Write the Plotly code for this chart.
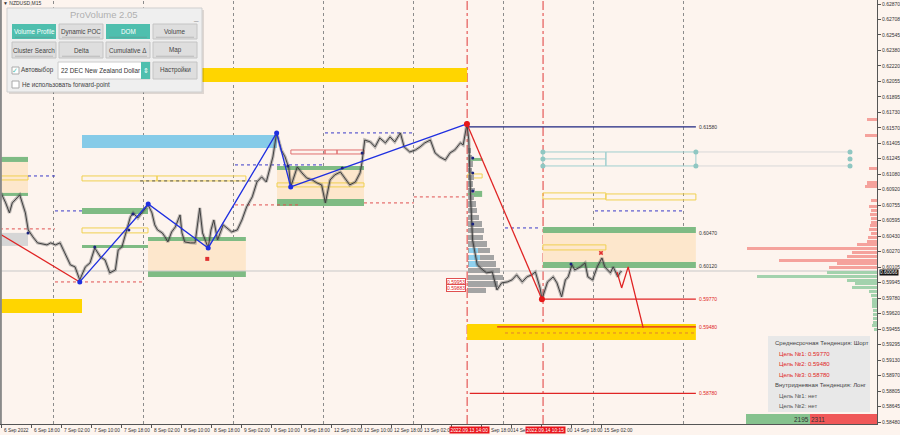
import plotly.graph_objects as go

# ---------------- data ----------------
# x axis: trading hours since 6 Sep 2022 10:00 (M15 bars, weekend skipped)
tick_hours = [0, 8, 16, 24, 32, 40, 48, 56, 64, 72, 80, 88, 96, 104, 112, 120, 128, 136, 144, 152, 160]
tick_labels = ["6 Sep 2022", "6 Sep 18:00", "7 Sep 02:00", "7 Sep 10:00", "7 Sep 18:00",
               "8 Sep 02:00", "8 Sep 10:00", "8 Sep 18:00", "9 Sep 02:00", "9 Sep 10:00",
               "9 Sep 18:00", "12 Sep 02:00", "12 Sep 10:00", "12 Sep 18:00", "13 Sep 02:00",
               "13 Sep 10:00", "13 Sep 18:00", "14 Sep 02:00", "14 Sep 10:00", "14 Sep 18:00",
               "15 Sep 02:00"]
day_separators = [14, 38, 62, 86, 110, 134, 158, 182]
event_hours = [124.0, 144.25]
event_labels = ["2022.09.13 14:00", "2022.09.14 10:15"]

price_ticks = [0.62870, 0.62708, 0.62545, 0.62380, 0.62220, 0.62055, 0.61895, 0.61730,
               0.61570, 0.61405, 0.61245, 0.61080, 0.60920, 0.60755, 0.60595, 0.60430,
               0.60270, 0.60105, 0.59945, 0.59780, 0.59620, 0.59455, 0.59295, 0.59130,
               0.58970, 0.58805, 0.58645, 0.58480]
current_price = 0.60066

price_hours = [0, 0.5, 1.25, 2.25, 3, 3.75, 4.5, 5, 6.5, 7.25,
               8.5, 9.75, 12.25, 13.25, 14.5, 15.75, 17, 18.5, 19.75, 20.5,
               21, 22.5, 23.75, 25, 26.5, 27.75, 29, 30.5, 31.25, 32.25,
               33.5, 34.5, 35.25, 36.5, 37.75, 39.25, 40.25, 41, 41.75, 43,
               43.75, 44.5, 45.5, 46.5, 47.75, 48.25, 49, 50.5, 51.75, 53,
               53.75, 55.25, 56, 56.75, 57.75, 58.5, 59.25, 60.25, 61.5, 63,
               64.25, 65.5, 67, 68.25, 69.5, 70.75, 71.75, 72.5, 73.5, 74.75,
               75.75, 76.75, 77.25, 79, 80.25, 81.5, 83, 84.25, 85.5, 86.5,
               87.75, 89, 90.5, 91.75, 93, 94.5, 95.75, 96.25, 97, 98.5,
               99.75, 101, 102.5, 103.75, 105, 106.5, 107.5, 109, 110.5, 111.75,
               113, 114.5, 115.75, 117, 118.5, 119.75, 121, 122.5, 123.25, 124.25,
               124.75, 125.25, 125.75, 126.25, 127, 128.5, 129.5, 131, 132.25, 133.5,
               135, 136.25, 137.5, 139, 140.25, 141.5, 142.5, 143.75, 144.25, 145.75,
               147.25, 148.25, 149.5, 150.5, 151.25, 152.25, 153, 154.5, 155.75, 156.5,
               157.75, 159, 160.25, 161, 162.5, 163.25, 164.5, 165, 165.5]
price_close = [0.60886, 0.60844, 0.60781, 0.60676, 0.60781, 0.60812, 0.60844, 0.60865, 0.60676, 0.60497,
               0.60424, 0.60361, 0.60340, 0.60361, 0.60340, 0.60361, 0.60256, 0.60130, 0.60109, 0.60025,
               0.59972, 0.60109, 0.60151, 0.60308, 0.60214, 0.60182, 0.60046, 0.60077, 0.60287, 0.60319,
               0.60497, 0.60634, 0.60676, 0.60623, 0.60686, 0.60760, 0.60676, 0.60550, 0.60497, 0.60466,
               0.60424, 0.60371, 0.60476, 0.60529, 0.60655, 0.60466, 0.60371, 0.60361, 0.60361, 0.60728,
               0.60466, 0.60308, 0.60497, 0.60602, 0.60392, 0.60466, 0.60550, 0.60518, 0.60476, 0.60497,
               0.60602, 0.60739, 0.60844, 0.61001, 0.61054, 0.61001, 0.61159, 0.61264, 0.61516, 0.61337,
               0.61264, 0.61148, 0.60949, 0.61159, 0.61096, 0.61043, 0.61022, 0.60991, 0.60970, 0.60781,
               0.61022, 0.61075, 0.61106, 0.61043, 0.60970, 0.61001, 0.61096, 0.61201, 0.61442, 0.61421,
               0.61369, 0.61463, 0.61411, 0.61474, 0.61421, 0.61516, 0.61369, 0.61316, 0.61337, 0.61369,
               0.61411, 0.61442, 0.61306, 0.61264, 0.61232, 0.61306, 0.61337, 0.61411, 0.61390, 0.61610,
               0.61442, 0.60812, 0.60392, 0.60287, 0.60130, 0.60077, 0.60046, 0.60056, 0.59867, 0.59941,
               0.59951, 0.59972, 0.60025, 0.59951, 0.60004, 0.60025, 0.60056, 0.59888, 0.59770, 0.59951,
               0.60004, 0.59941, 0.59794, 0.59972, 0.60004, 0.60130, 0.60077, 0.60109, 0.60151, 0.60004,
               0.59972, 0.60109, 0.60203, 0.60109, 0.60046, 0.60109, 0.60004, 0.60046, 0.60066]

zz_blue_hours = [21, 39.25, 55.25, 73.5, 77.25, 124.25]
zz_blue_price = [0.59951, 0.60770, 0.60308, 0.61516, 0.60949, 0.61610]
zz_red_hours = [[-0.27, 21], [124.25, 144.25], [164.25, 165.5, 167.25, 171.25]]
zz_red_price = [[0.60455, 0.59951], [0.61610, 0.59770], [0.60056, 0.59888, 0.60109, 0.59468]]

marker_hours = [7.2, 25.0, 34.1, 35.2, 76.5, 91.0, 96.3, 125.8, 125.8, 125.8, 125.8, 152.0]
marker_price = [0.60466, 0.60319, 0.60497, 0.60665, 0.61169, 0.61148, 0.61306, 0.61253, 0.61096, 0.60907, 0.60560, 0.60140]

# levels
level_prices = [0.61580, 0.60470, 0.60120, 0.59770, 0.59480, 0.58780]
level_labels = ["0.61580", "0.60470", "0.60120", "0.59770", "0.59480", "0.58780"]

# volume profile of the 13 Sep swing (grey histogram)
vp_mid_price = [0.6133, 0.6126, 0.6119, 0.6112, 0.6105, 0.6098, 0.6091, 0.6084, 0.6077, 0.6070, 0.6063,
                0.6056, 0.6049, 0.6042, 0.6035, 0.6028, 0.6021, 0.6014, 0.6007, 0.6000, 0.5993, 0.5986]
vp_mid_vol = [3, 4, 5, 4, 6, 5, 7, 6, 8, 9, 11, 14, 16, 15, 19, 22, 26, 28, 32, 35, 30, 18]
vp_mid_va_price = [0.6028, 0.6021, 0.6014]
vp_mid_va_vol = [9, 11, 9]

# DOM profile at right edge
dom_ask_price = [0.6166, 0.6149, 0.6114, 0.6099, 0.6095, 0.6081, 0.6074, 0.6070, 0.6066, 0.6062, 0.6058, 0.6054,
                 0.6050, 0.6046, 0.6042, 0.6038, 0.6034, 0.6030, 0.6026, 0.6022, 0.6018, 0.6014, 0.6010]
dom_ask_vol = [10, 12, 8, 10, 12, 6, 8, 6, 7, 6, 6, 7, 8, 6, 9, 10, 20, 130, 25, 30, 98, 40, 48]
dom_bid_price = [0.6005, 0.6001, 0.5997, 0.5993, 0.5989, 0.5985, 0.5981, 0.5977, 0.5973, 0.5969,
                 0.5965, 0.5961, 0.5957, 0.5953, 0.5949, 0.5945]
dom_bid_vol = [50, 120, 30, 22, 25, 8, 6, 5, 5, 5, 4, 4, 4, 4, 5, 3]
dom_totals = ["2195", "2311"]

info_lines = ["Среднесрочная Тенденция: Шорт", "Цель №1: 0.59770", "Цель №2: 0.59480",
              "Цель №3: 0.58780", "Внутридневная Тенденция: Лонг", "Цель №1: нет", "Цель №2: нет"]
panel_buttons = ["Volume Profile", "Dynamic POC", "DOM", "Volume",
                 "Cluster Search", "Delta", "Cumulative Δ", "Map"]

# zones: (h0, h1, p_low, p_high)
green_zones = [(-0.3, 7.2, 0.61211, 0.61264), (-0.3, 7.2, 0.60854, 0.60886), (21.6, 39.2, 0.60665, 0.60728),
               (21.6, 39.2, 0.60308, 0.60340), (39.2, 65.3, 0.60382, 0.60424), (39.2, 65.3, 0.60004, 0.60067),
               (73.6, 96.8, 0.61127, 0.61169), (73.6, 96.8, 0.60749, 0.60823), (124.5, 128.3, 0.61222, 0.61253),
               (124.5, 128.3, 0.60844, 0.60907), (144.5, 185.3, 0.60466, 0.60529), (144.5, 185.3, 0.60098, 0.60161)]
peach_zones = [(-0.3, 7.2, 0.60886, 0.61211), (39.2, 65.3, 0.60067, 0.60382),
               (73.6, 96.8, 0.60823, 0.61127), (144.5, 185.3, 0.60161, 0.60466)]
gold_zones = [(39.2, 124.3, 0.62051, 0.62198), (-0.3, 21.6, 0.59626, 0.59773), (124.3, 185.3, 0.59342, 0.59510)]
blue_zones = [(21.6, 73.6, 0.61358, 0.61494)]
grey_zones = [(-0.3, 7.2, 0.60329, 0.60466)]
yellow_boxes = [(-0.3, 7.2, 0.61022, 0.61064), (21.6, 41.6, 0.61012, 0.61064), (41.6, 65.3, 0.61012, 0.61064),
                (21.6, 39.2, 0.60466, 0.60518), (73.6, 96.8, 0.60949, 0.60991), (124.5, 128.3, 0.61043, 0.61085),
                (144.5, 161.3, 0.60823, 0.60886), (161.3, 185.3, 0.60812, 0.60875), (144.5, 161.3, 0.60287, 0.60340)]
red_boxes = [(77.3, 86.4, 0.61295, 0.61337), (86.4, 89.6, 0.61295, 0.61337), (89.6, 96.8, 0.61295, 0.61337)]
cyan_boxes = [(144.5, 161.3, 0.61169, 0.61316), (161.3, 185.3, 0.61169, 0.61316)]
dash_lines = [(7.2, 14.4, 0.61064, "#3a3ac8"), (-0.3, 14.4, 0.60508, "#e05050"), (14.4, 38.4, 0.59951, "#e05050"),
              (14.4, 21.6, 0.60697, "#3a3ac8"), (62.4, 79.7, 0.60760, "#e05050"), (62.4, 86.4, 0.61180, "#3a3ac8"),
              (86.4, 110.1, 0.61516, "#3a3ac8"), (96.8, 110.1, 0.60781, "#e05050"), (110.1, 124.3, 0.60844, "#e05050"),
              (158.4, 182.4, 0.60697, "#3a3ac8"), (134.4, 143.7, 0.60518, "#3a3ac8"), (37.1, 68.5, 0.61012, "#555555"),
              (134.4, 185.3, 0.59415, "#e08030")]
fib_boxes = ["0.59953", "0.59883"]
fib_prices = [0.59953, 0.59883]

# ---------------- layout helpers ----------------
W, H = 900, 435
PL, PR, PT, PB = 0, 23, 0, 11
PW, PH = W - PL - PR, H - PT - PB
X0, X1 = -0.267, 233.6
Y0, Y1 = 0.58459, 0.62912
FONT = "Liberation Sans"


def px(x):
    return x / PW


def py(y):
    return 1 - y / PH


shapes = []
annotations = []


def zone(h0, h1, p0, p1, fill=None, line=None, lw=1, dash="solid", layer="below"):
    shapes.append(dict(type="rect", xref="x", yref="y", x0=h0, x1=h1, y0=p0, y1=p1,
                       fillcolor=fill if fill else "rgba(0,0,0,0)",
                       line=dict(color=line if line else "rgba(0,0,0,0)", width=lw if line else 0, dash=dash),
                       layer=layer))


def hline(h0, h1, p, color, width=1, dash="solid", layer="below"):
    shapes.append(dict(type="line", xref="x", yref="y", x0=h0, x1=h1, y0=p, y1=p,
                       line=dict(color=color, width=width, dash=dash), layer=layer))


def prect(x0, y0, x1, y1, fill, line=None, lw=1):
    shapes.append(dict(type="rect", xref="paper", yref="paper", x0=px(x0), x1=px(x1), y0=py(y1), y1=py(y0),
                       fillcolor=fill, line=dict(color=line if line else "rgba(0,0,0,0)", width=lw if line else 0),
                       layer="above"))


def ptext(x, y, text, size=6.5, color="#333", anchor="left", bg=None, border=None):
    annotations.append(dict(xref="paper", yref="paper", x=px(x), y=py(y), text=text, showarrow=False,
                            xanchor=anchor, yanchor="middle", font=dict(family=FONT, size=size, color=color),
                            bgcolor=bg, bordercolor=border, borderwidth=1 if border else 0, borderpad=0))


# ---------------- zones ----------------
for z in peach_zones:
    zone(*z, fill="#fde7cc")
for z in gold_zones:
    zone(*z, fill="#ffd500")
for z in blue_zones:
    zone(*z, fill="#86cbe8")
for z in grey_zones:
    zone(*z, fill="#d6d6d6")
for z in green_zones:
    zone(*z, fill="#7fbb84")
for z in yellow_boxes:
    zone(*z, line="#f0d050", lw=1)
for z in red_boxes:
    zone(*z, line="#e07070", lw=1)
for z in cyan_boxes:
    zone(*z, line="#9fcfcf", lw=1)
hline(144.5, 161.3, 0.61243, "#9fcfcf")
hline(185.3, 226.4, 0.61316, "#d8d8d8")
hline(185.3, 226.4, 0.61169, "#d8d8d8")
for h0, h1, p, c in dash_lines:
    hline(h0, h1, p, c, width=1, dash="dot")

hline(X0, X1, current_price, "#c8c8c8", width=1)

for h in day_separators:
    shapes.append(dict(type="line", xref="x", yref="paper", x0=h, x1=h, y0=0, y1=1,
                       line=dict(color="#8c8c8c", width=1, dash="dot"), layer="below"))
for h in event_hours:
    shapes.append(dict(type="line", xref="x", yref="paper", x0=h + 0.3, x1=h + 0.3, y0=0, y1=1,
                       line=dict(color="#e03a3a", width=1, dash="dashdot"), layer="below"))

level_start = [124.3, 144.5, 144.5, 144.5, 132.3, 125.0]
level_colors = ["#1c2580", "#7fbb84", "#7fbb84", "#e02424", "#e02424", "#e02424"]
label_colors = ["#333", "#333", "#333", "#e02424", "#e02424", "#e02424"]
for p, lab, h0, c, lc in zip(level_prices, level_labels, level_start, level_colors, label_colors):
    if lab not in ("0.60470", "0.60120"):
        hline(h0, 185.3, p, c, width=1.3)
    annotations.append(dict(xref="x", yref="y", x=185.6, y=p, text=lab, showarrow=False, xanchor="left",
                            yanchor="middle", font=dict(family=FONT, size=5, color=lc)))

for lab, p in zip(fib_boxes, fib_prices):
    hline(124.3, 129.0, p, "#e05050")
    annotations.append(dict(xref="x", yref="y", x=124.0, y=p, text=lab, showarrow=False, xanchor="right",
                            yanchor="middle", font=dict(family=FONT, size=5, color="#e02424"),
                            bgcolor="#ffffff", bordercolor="#e05050", borderwidth=1, borderpad=0))

# ---------------- traces ----------------
fig = go.Figure()
fig.add_trace(go.Bar(y=vp_mid_price, x=[v / 3.75 for v in vp_mid_vol], base=124.4, orientation="h",
                     width=0.00055, marker=dict(color="#a4a4a4", line=dict(width=0)), showlegend=False))
fig.add_trace(go.Bar(y=vp_mid_va_price, x=[v / 3.75 for v in vp_mid_va_vol], base=124.8, orientation="h",
                     width=0.00055, marker=dict(color="#8fd0ee", line=dict(width=0)), showlegend=False))
fig.add_trace(go.Bar(y=dom_ask_price, x=[-v / 3.75 for v in dom_ask_vol], base=X1, orientation="h",
                     width=0.00032, marker=dict(color="#f5a29c", line=dict(width=0)), showlegend=False))
fig.add_trace(go.Bar(y=dom_bid_price, x=[-v / 3.75 for v in dom_bid_vol], base=X1, orientation="h",
                     width=0.00032, marker=dict(color="#a3d2ad", line=dict(width=0)), showlegend=False))

fig.add_trace(go.Scatter(x=price_hours, y=price_close, mode="lines",
                         line=dict(color="rgba(90,90,90,0.4)", width=3.2), showlegend=False, hoverinfo="skip"))
fig.add_trace(go.Scatter(x=price_hours, y=price_close, mode="lines",
                         line=dict(color="#404040", width=1), showlegend=False))

for hs, ps in zip(zz_red_hours, zz_red_price):
    fig.add_trace(go.Scatter(x=hs, y=ps, mode="lines", line=dict(color="#e02424", width=1.3), showlegend=False))
fig.add_trace(go.Scatter(x=zz_blue_hours, y=zz_blue_price, mode="lines+markers",
                         line=dict(color="#1f2fe0", width=1.3), marker=dict(size=5, color="#1f2fe0"),
                         showlegend=False))
fig.add_trace(go.Scatter(x=[zz_red_hours[1][0], zz_red_hours[1][1]], y=[zz_red_price[1][0], zz_red_price[1][1]],
                         mode="markers", marker=dict(size=6, color="#e81818"), showlegend=False))
fig.add_trace(go.Scatter(x=marker_hours, y=marker_price, mode="markers",
                         marker=dict(size=3, color="#1a237e"), showlegend=False))
fig.add_trace(go.Scatter(x=[160.0, 55.0], y=[0.60256, 0.60193], mode="markers",
                         marker=dict(size=4, color="#e03030", symbol=["x", "square"]), showlegend=False))
fig.add_trace(go.Scatter(x=[167.0, 62.0], y=[0.60203, 0.60382], mode="markers",
                         marker=dict(size=5, color="rgba(0,0,0,0)", symbol="circle-open",
                                     line=dict(color="#e07070", width=1)), showlegend=False))
cyan_h = [144.5, 144.5, 144.5, 185.3, 185.3, 226.4, 226.4, 226.4]
cyan_p = [0.61316, 0.61243, 0.61169, 0.61316, 0.61169, 0.61316, 0.61243, 0.61169]
fig.add_trace(go.Scatter(x=cyan_h, y=cyan_p, mode="markers", marker=dict(size=5, color="#8fc7c2"),
                         showlegend=False))

# ---------------- axis labels as text ----------------
# parts of some labels are hidden behind the red event tags, as in the terminal
visible_part = {"13 Sep 10:00": None, "13 Sep 18:00": ("Sep 18:00", 8), "14 Sep 02:00": ("14 Se", 0),
                "14 Sep 10:00": ("00", 24)}
for h, lab in zip(tick_hours, tick_labels):
    if lab in visible_part:
        if visible_part[lab] is None:
            continue
        text, shift = visible_part[lab]
    else:
        text, shift = lab, 1
    annotations.append(dict(xref="x", yref="paper", x=h, y=py(430), text=text, showarrow=False, xanchor="left",
                            xshift=shift, yanchor="middle", font=dict(family=FONT, size=4.8, color="#333")))
for h, lab, sh in zip(event_hours, event_labels, [3, 4]):
    annotations.append(dict(xref="x", yref="paper", x=h, y=py(430), text=lab, showarrow=False, xanchor="center",
                            xshift=sh, yanchor="middle", font=dict(family=FONT, size=4.8, color="#ffffff"),
                            bgcolor="#e8141b", borderpad=0.5))
annotations.append(dict(xref="paper", yref="y", x=1.0, y=current_price, text="%.5f" % current_price,
                        showarrow=False, xanchor="left", yanchor="middle", xshift=2, yshift=-2,
                        font=dict(family=FONT, size=4.8, color="#ffffff"), bgcolor="#111111", borderpad=0))

# ---------------- info box ----------------
prect(768, 336, 870, 412, "#e8e8e8")
info_y = [343, 354, 364, 375, 385, 396, 406]
info_x = [775, 779, 779, 779, 775, 779, 779]
info_c = ["#444", "#e02424", "#e02424", "#e02424", "#444", "#555", "#555"]
for t, x, y, c in zip(info_lines, info_x, info_y, info_c):
    ptext(x, y, t, size=6, color=c)

prect(746, 414, 810, 424, "#86c28e")
prect(810, 414, 877, 424, "#f05858")
ptext(809, 419, dom_totals[0], size=6.5, color="#333", anchor="right")
ptext(811, 419, dom_totals[1], size=6.5, color="#333", anchor="left")

# ---------------- ProVolume panel ----------------
ptext(3, 3, "▼ NZDUSD,M15", size=5, color="#333")
prect(9, 10, 204, 94, "rgba(0,0,0,0.12)")
prect(7, 8, 202, 92, "#efefef", "#cfcfcf")
ptext(104, 15, "ProVolume 2.05", size=9.5, color="#b0b0b0", anchor="center")
ptext(196, 17, "_", size=8, color="#888", anchor="center")
btn_x = [(12, 56), (59, 103), (106, 150), (153, 197)]
btn_rows = [(24, 39), (42, 58)]
for i, lab in enumerate(panel_buttons):
    r, c = divmod(i, 4)
    x0, x1 = btn_x[c]
    y0, y1 = btn_rows[r]
    active = lab in ("Volume Profile", "DOM")
    prect(x0, y0, x1, y1, "#4fbfae" if active else "#dedede", "#c4c4c4" if not active else None)
    ptext((x0 + x1) / 2, (y0 + y1) / 2, lab, size=6.3, color="#ffffff" if active else "#444", anchor="center")
    prect(x0 + 3, y1 - 2.2, x1 - 3, y1 - 1.2, "rgba(120,120,120,0.35)")
prect(12, 67, 19, 74, "#ffffff", "#aaaaaa")
ptext(15.5, 70, "✓", size=7, color="#4fbfae", anchor="center")
ptext(21, 70, "Автовыбор", size=6.3, color="#444")
prect(58, 62, 150, 79, "#ffffff", "#cccccc")
ptext(61, 70.5, "22 DEC New Zealand Dollar", size=6.3, color="#333")
prect(141, 62, 150, 79, "#4fbfae")
ptext(145.5, 70.5, "⇕", size=7, color="#ffffff", anchor="center")
prect(153, 62, 197, 79, "#dedede", "#c4c4c4")
ptext(175, 70.5, "Настройки", size=6.3, color="#444", anchor="center")
prect(12, 81, 19, 88, "#ffffff", "#aaaaaa")
ptext(22, 84.5, "Не использовать forward-point", size=6.3, color="#444")

shapes.append(dict(type="line", xref="paper", yref="paper", x0=0.001, x1=0.001, y0=0, y1=1,
                   line=dict(color="#8a8a8a", width=2), layer="above"))

fig.update_layout(
    width=W, height=H, margin=dict(l=PL, r=PR, t=PT, b=PB, autoexpand=False),
    paper_bgcolor="#fdf4ee", plot_bgcolor="#fdf4ee",
    barmode="overlay", showlegend=False, bargap=0,
    shapes=shapes, annotations=annotations,
    xaxis=dict(range=[X0, X1], tickvals=tick_hours, ticks="outside", ticklen=3, tickcolor="#555",
               showticklabels=False, showgrid=False, zeroline=False, showline=True, linecolor="#555",
               linewidth=1, fixedrange=True),
    yaxis=dict(range=[Y0, Y1], side="right", tickvals=price_ticks, ticktext=["%.5f" % v for v in price_ticks],
               ticks="outside", ticklen=3, tickcolor="#555", tickfont=dict(family=FONT, size=5, color="#333"),
               showgrid=False, zeroline=False, showline=True, linecolor="#555", linewidth=1,
               automargin=False, fixedrange=True),
)

fig.write_html("out.html", config={"displayModeBar": False},
               post_script="document.body.style.margin='0';document.body.style.background='#fdf4ee';")
